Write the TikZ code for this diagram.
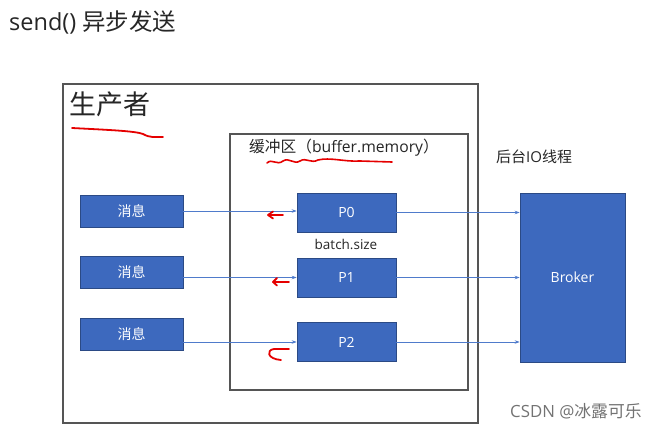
\documentclass[tikz,border=0pt]{standalone}
\usepackage{fontspec}
\setmainfont{Open Sans}
\newfontfamily\cjk{Noto Sans CJK SC}
\usetikzlibrary{arrows.meta}
\definecolor{boxblue}{HTML}{3D69BE}
\definecolor{linkblue}{HTML}{4F7BCB}
\definecolor{framegray}{HTML}{555555}
\tikzset{
  frame/.style={draw=framegray, line width=1.2pt},
  bluebox/.style={draw=boxblue!70!black, fill=boxblue, line width=0.6pt, text=white, font=\fontsize{14}{16}\selectfont, inner sep=0pt},
  link/.style={draw=linkblue, line width=0.7pt, -{Stealth[length=5pt,width=3.5pt]}},
  redmark/.style={draw=red!90!black, line width=1.8pt, line cap=round, line join=round},
  lbl/.style={font=\fontsize{14}{16}\selectfont, text=black!85, inner sep=0pt}
}
\begin{document}
\begin{tikzpicture}[x=1pt,y=-1pt]
\useasboundingbox (0,0) rectangle (663,430);
% title
\node[anchor=west, inner sep=0pt, font=\fontsize{23.5}{26}\selectfont, text=black!85] (title) at (9,22) {send() {\cjk 异步发送}};
% producer frame
\node[frame, minimum width=415pt, minimum height=339pt, inner sep=0pt] (producer) at (270.5,253.5) {};
\node[anchor=west, inner sep=0pt, font=\fontsize{27}{30}\selectfont\cjk, text=black!85] (prodlbl) at (69,104) {生产者};
% buffer frame
\node[frame, minimum width=238pt, minimum height=256pt, inner sep=0pt] (buffer) at (349,262) {};
\node[lbl, anchor=west, font=\fontsize{15.7}{17}\selectfont] (buflbl) at (249,148) {{\cjk 缓冲区（}buffer.memory{\cjk ）}};
% messages
\node[bluebox, minimum width=103pt, minimum height=32pt, font=\fontsize{14}{16}\selectfont\cjk] (m0) at (131.5,211) {消息};
\node[bluebox, minimum width=103pt, minimum height=32pt, font=\fontsize{14}{16}\selectfont\cjk] (m1) at (131.5,272.5) {消息};
\node[bluebox, minimum width=103pt, minimum height=32pt, font=\fontsize{14}{16}\selectfont\cjk] (m2) at (131.5,334.5) {消息};
% partitions
\node[bluebox, minimum width=99pt, minimum height=39pt] (p0) at (346.5,212.5) {P0};
\node[bluebox, minimum width=99pt, minimum height=39pt] (p1) at (346.5,277.5) {P1};
\node[bluebox, minimum width=99pt, minimum height=39pt] (p2) at (346.5,342) {P2};
\node[lbl, font=\fontsize{13.5}{15}\selectfont] (batch) at (346,244) {batch.size};
% broker
\node[bluebox, minimum width=105pt, minimum height=169pt] (broker) at (572.5,277.5) {Broker};
\node[lbl, anchor=west, font=\fontsize{15}{16}\selectfont] (iolbl) at (496,157) {{\cjk 后台}IO{\cjk 线程}};
% links
\draw[link] (m0.east) -- (m0.east -| p0.west);
\draw[link] (m1.east |- p1.west) -- (p1.west);
\draw[link] (m2.east |- p2.west) -- (p2.west);
\draw[link] (p0.east) -- (p0.east -| broker.west);
\draw[link] (p1.east) -- (p1.east -| broker.west);
\draw[link] (p2.east) -- (p2.east -| broker.west);
% red hand annotations
\draw[redmark] (72,128) .. controls (110,130) and (135,131) .. (143,134) .. controls (150,138) and (155,137) .. (163,137);
\draw[redmark, line width=1.6pt] (267,163) .. controls (272,158) and (277,166) .. (283,161) .. controls (289,157) and (294,165) .. (300,161) .. controls (306,157) and (311,164) .. (318,160) .. controls (330,157) and (345,162) .. (360,161) -- (392,162);
\draw[redmark] (283,215) -- (268,215) (273,211.5) -- (268,215) -- (273,218.5);
\draw[redmark] (289,282) -- (273,282) (277,278) -- (273,282) -- (277,285.5);
\draw[redmark] (289,349) -- (274,349) .. controls (266,350) and (267,359) .. (281,360);
% watermark
\node[anchor=west, inner sep=0pt, font=\fontsize{16.8}{18}\selectfont, text=black!55] (wm) at (510,411) {CSDN @{\cjk 冰露可乐}};
\end{tikzpicture}
\end{document}
